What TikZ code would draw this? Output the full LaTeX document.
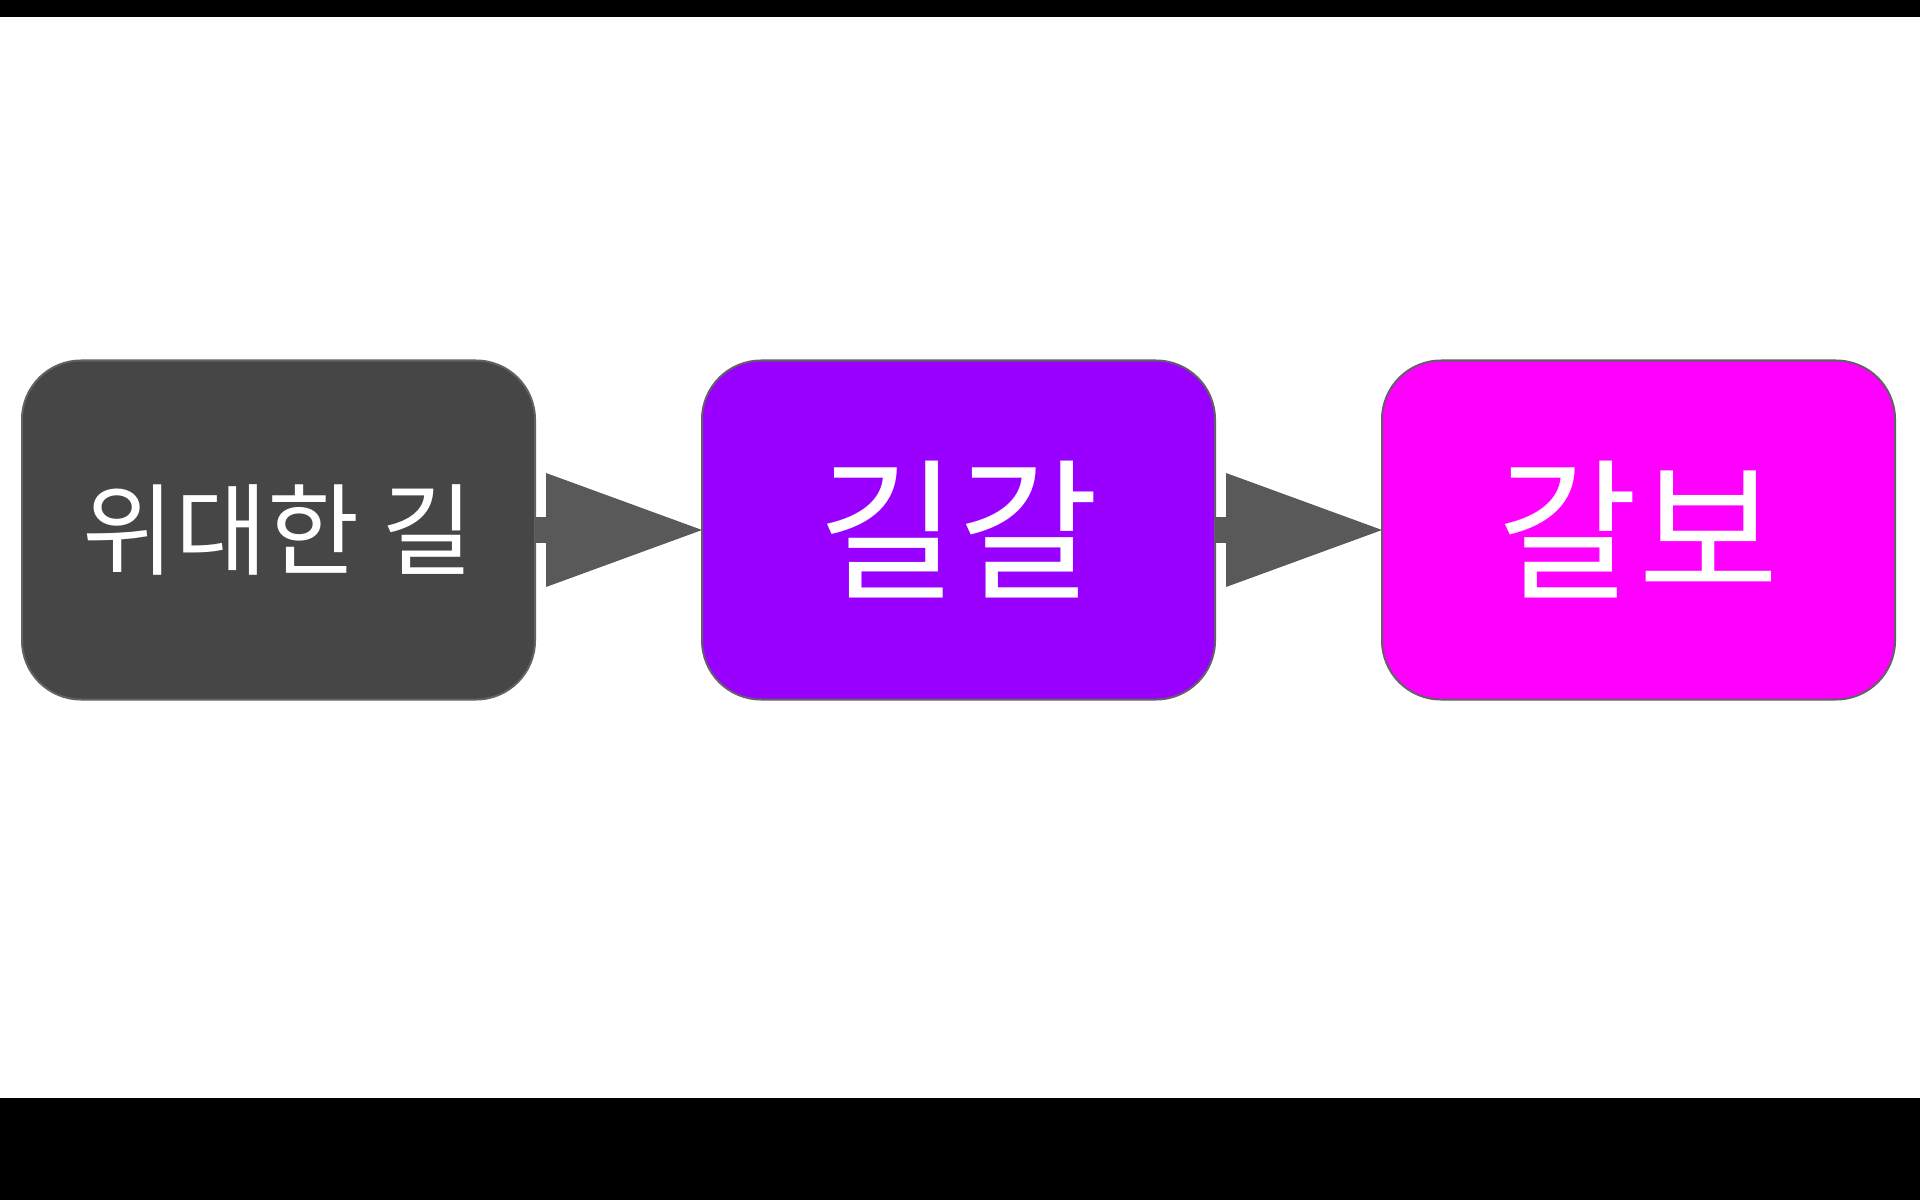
\documentclass[tikz,border=0pt]{standalone}
\usepackage{fontspec}
\usepackage{xcolor}
\usepackage{tikz}
\usetikzlibrary{arrows.meta, positioning}
\newfontfamily\krfont{Noto Sans CJK KR}
\definecolor{startcolor}{RGB}{70, 70, 70}
\definecolor{gilgalcolor}{RGB}{153, 0, 255}
\definecolor{galbocolor}{RGB}{255, 0, 255}
\definecolor{edgecolor}{RGB}{100, 96, 104}
\definecolor{arrowcolor}{RGB}{89, 89, 89}

\begin{document}
\begin{tikzpicture}[
    stepbox/.style={draw=edgecolor, line width=0.02cm, rounded corners=0.59cm, minimum width=5.13cm, minimum height=3.39cm, inner sep=0pt, outer sep=0pt, text=white, font=\krfont\fontsize{43.5pt}{50pt}\selectfont},
    flow/.style={arrowcolor, line width=0.26cm, -{Triangle[length=1.56cm, width=1.14cm, line width=0pt]}}
]
    % Page frame
    \useasboundingbox (0, 0) rectangle (19.2, 12);
    \fill[white] (0, 0) rectangle (19.2, 12);
    \fill[black] (0, 11.83) rectangle (19.2, 12);
    \fill[black] (0, 0) rectangle (19.2, 1.02);

    % Boxes
    \node[stepbox, fill=startcolor, font=\krfont\fontsize{28.5pt}{34pt}\selectfont] (weidae) at (2.785, 6.70) {위대한 길};
    \node[stepbox, fill=gilgalcolor, right=1.67cm of weidae] (gilgal) {길갈};
    \node[stepbox, fill=galbocolor, right=1.67cm of gilgal] (galbo) {갈보};

    % Arrows
    \draw[flow] (weidae.east) -- (gilgal.west);
    \draw[flow] (gilgal.east) -- (galbo.west);

\end{tikzpicture}
\end{document}
